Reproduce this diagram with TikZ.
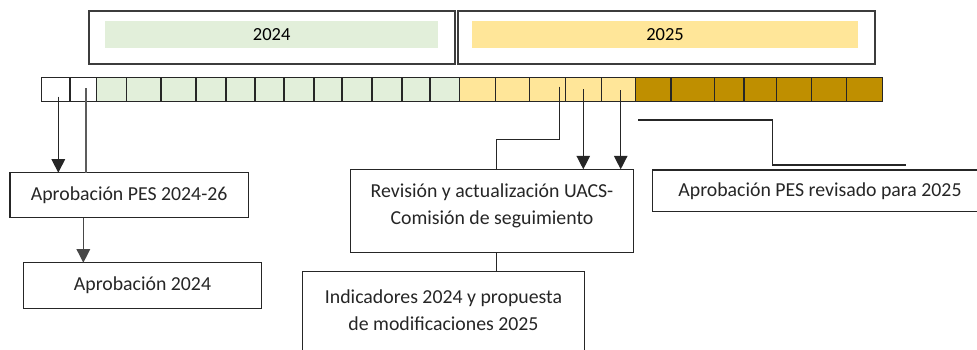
\documentclass[tikz,border=0pt]{standalone}
\usepackage{fontspec}
\setmainfont{Carlito}
\usetikzlibrary{arrows.meta}
\definecolor{lgreen}{HTML}{E2EFDA}
\definecolor{lyellow}{HTML}{FFE699}
\definecolor{dgold}{HTML}{BF8F00}
\definecolor{ink}{HTML}{262626}
\begin{document}
\begin{tikzpicture}[x=1pt,y=-1pt,
  cell/.style={draw=ink, line width=1.3pt, minimum height=24.2pt, inner sep=0pt, outer sep=0pt},
  yearbox/.style={draw=ink!90, line width=1.8pt, inner sep=0pt, outer sep=0pt},
  yearfill/.style={inner sep=0pt, outer sep=0pt, minimum height=27.3pt, font=\fontsize{18.5}{20}\selectfont, text=black},
  box/.style={draw=ink, line width=1.3pt, fill=white, inner sep=0pt, outer sep=0pt},
  btext/.style={inner sep=0pt, outer sep=0pt, font=\fontsize{19.8}{26.5}\selectfont, text=ink, align=center},
  conn/.style={draw=ink, line width=1.3pt},
  arr/.style={conn, -{Triangle[width=13.5pt,length=13.5pt]}}]
\useasboundingbox (0,0) rectangle (977,349);
\clip (0,0) rectangle (977,349);

% year header
\node[yearbox, minimum width=366pt, minimum height=53pt] (y24) at (272,37.5) {};
\node[yearfill, fill=lgreen, minimum width=333.3pt] (g24) at (271.65,34.65) {2024};
\node[yearbox, minimum width=417.6pt, minimum height=53pt] (y25) at (666.5,37.5) {};
\node[yearfill, fill=lyellow, minimum width=385.4pt] (g25) at (665,34.65) {2025};

% timeline strip
\foreach \i/\a/\b/\col in {
  1/41.7/70/white, 2/70/96.7/white,
  3/96.7/126.7/lgreen, 4/126.7/161/lgreen, 5/161/196/lgreen, 6/196/226/lgreen,
  7/226/255/lgreen, 8/255/284/lgreen, 9/284/314/lgreen, 10/314/342/lgreen,
  11/342/372/lgreen, 12/372/402/lgreen, 13/402/430/lgreen, 14/430/459.3/lgreen,
  15/459.3/495.7/lyellow, 16/495.7/529.3/lyellow, 17/529.3/565.7/lyellow,
  18/565.7/601.7/lyellow, 19/601.7/635.3/lyellow,
  20/635.3/671/dgold, 21/671/714.3/dgold, 22/714.3/744/dgold, 23/744/776.7/dgold,
  24/776.7/811.7/dgold, 25/811.7/846.7/dgold, 26/846.7/882.7/dgold}
  \node[cell, fill=\col, minimum width={(\b-\a)*1pt}] (c\i) at ({(\a+\b)/2},89.5) {};

% boxes
\node[box, minimum width=238.3pt, minimum height=45pt] (b1) at (129.15,195.2) {};
\node[btext] (t1) at (b1.center) {Aprobación PES 2024-26};
\node[box, minimum width=238.4pt, minimum height=46pt] (b2) at (142.5,285.7) {};
\node[btext] (t2) at (b2.center) {Aprobación 2024};
\node[box, minimum width=282.6pt, minimum height=83.4pt] (b3) at (492,211) {};
\node[btext] (t3) at (492,206) {Revisión y actualización UACS-\\Comisión de seguimiento};
\node[box, minimum width=282.4pt, minimum height=108.3pt] (b4) at (443.5,325.85) {};
\node[btext] (t4) at (443.5,310) {Indicadores 2024 y propuesta\\de modificaciones 2025};
\node[box, minimum width=342.3pt, minimum height=41.7pt] (b5) at (823.85,190.85) {};
\node[btext] (t5) at (820,191) {Aprobación PES revisado para 2025};

% connectors
\draw[arr] ([xshift=2.45pt,yshift=-7.2pt]c1.center) -- ([xshift=2.45pt]c1.center |- b1.north);
\draw[conn, draw=ink!75] ([xshift=2.65pt,yshift=1.2pt]c2.center) -- ([xshift=2.65pt]c2.center |- b1.north);
\draw[arr, draw=ink!85] (c2.center |- b1.south) -- (c2.center |- b2.north);
\draw[conn] ([xshift=11.8pt,yshift=2.8pt]c17.center) |- ([xshift=4.7pt,yshift=30pt]b3.north) -- ([xshift=4.7pt]b3.north);
\draw[arr] ([xshift=-0.4pt,yshift=0.2pt]c18.center) -- ([xshift=-0.4pt]c18.center |- b3.north);
\draw[arr] ([xshift=2.2pt,yshift=-0.5pt]c19.center) -- ([xshift=2.2pt]c19.center |- b3.north);
\draw[conn] ([xshift=4.7pt]b3.south) -- ([xshift=4.7pt]b3.south |- b4.north);
\coordinate (f1) at (638.3,120);
\coordinate (f2) at (906,165);
\draw[conn] (f1) -- ++(134,0) |- (f2);
\end{tikzpicture}
\end{document}
